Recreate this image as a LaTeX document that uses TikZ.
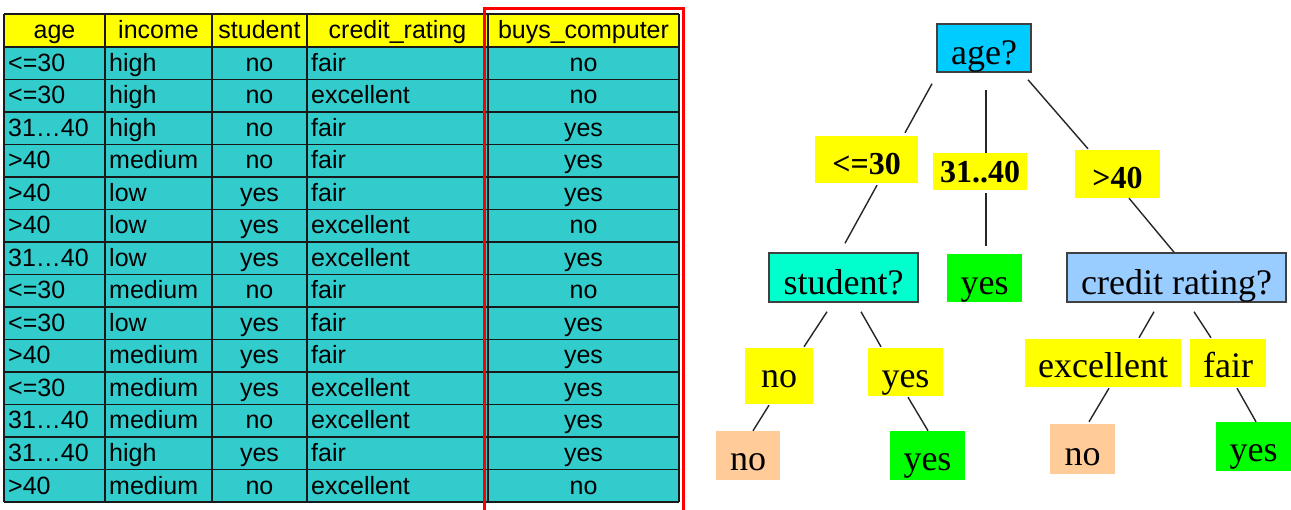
\documentclass[tikz,border=0pt]{standalone}
\usepackage{fontspec}
\setmainfont{Liberation Sans}
\newfontfamily\tms{Liberation Serif}
\usetikzlibrary{calc}
\definecolor{tealcell}{HTML}{33CCCC}
\definecolor{hdryellow}{HTML}{FFFF00}
\definecolor{agecol}{HTML}{00CCFF}
\definecolor{studcol}{HTML}{00FFCC}
\definecolor{credcol}{HTML}{99CCFF}
\definecolor{leafgreen}{HTML}{00FF00}
\definecolor{leafpeach}{HTML}{FFCC99}
\definecolor{bordgray}{HTML}{404040}
\definecolor{redbox}{HTML}{FF0000}
\tikzset{
  tcell/.style={inner sep=0pt, font=\fontsize{25}{30}\selectfont},
  tnode/.style={inner sep=0pt, anchor=base, font=\tms\fontsize{36}{42}\selectfont},
  tlabel/.style={tnode, fill=hdryellow, font=\tms\bfseries\fontsize{32}{38}\selectfont},
  tvalue/.style={tnode, fill=hdryellow},
  tquest/.style={tnode, draw=bordgray, line width=1.5pt},
  leafyes/.style={tnode, fill=leafgreen},
  leafno/.style={tnode, fill=leafpeach},
  conn/.style={draw=black!85, line width=1.4pt},
  grid/.style={draw=black!90, line width=1.5pt}
}
\begin{document}
\begin{tikzpicture}[x=1pt,y=-1pt]
\useasboundingbox[fill=white] (0,0) rectangle (1291,510);
% ---------- table ----------
\fill[hdryellow] (4,14) rectangle (679,47);
\fill[tealcell] (4,47) rectangle (679,502.5);
\foreach \yy in {14,47,79.5,112,144.5,177,209.5,242,274.5,307,339.5,372,404.5,437,469.5,502}
  \draw[grid] (4,\yy) -- (679,\yy);
\foreach \xx in {4,105,212,307,488,679}
  \draw[grid] (\xx,14) -- (\xx,502);
\node[tcell, anchor=base] (h1) at (54.5,39) {age};
\node[tcell, anchor=base] (h2) at (158.5,39) {income};
\node[tcell, anchor=base] (h3) at (259.5,39) {student};
\node[tcell, anchor=base] (h4) at (397.5,39) {credit\_rating};
\node[tcell, anchor=base] (h5) at (583.5,39) {buys\_computer};
\foreach \a/\b/\c/\d/\e [count=\i] in {
  <=30/high/no/fair/no,
  <=30/high/no/excellent/no,
  31…40/high/no/fair/yes,
  >40/medium/no/fair/yes,
  >40/low/yes/fair/yes,
  >40/low/yes/excellent/no,
  31…40/low/yes/excellent/yes,
  <=30/medium/no/fair/no,
  <=30/low/yes/fair/yes,
  >40/medium/yes/fair/yes,
  <=30/medium/yes/excellent/yes,
  31…40/medium/no/excellent/yes,
  31…40/high/yes/fair/yes,
  >40/medium/no/excellent/no}{
  \node[tcell, anchor=base west] (ra\i) at (8,{39+32.5*\i}) {\a};
  \node[tcell, anchor=base west] (rb\i) at (109,{39+32.5*\i}) {\b};
  \node[tcell, anchor=base] (rc\i) at (259.5,{39+32.5*\i}) {\c};
  \node[tcell, anchor=base west] (rd\i) at (311,{39+32.5*\i}) {\d};
  \node[tcell, anchor=base] (re\i) at (583.5,{39+32.5*\i}) {\e};
}
\draw[redbox, line width=3pt] (484,512) -- (484,8.5) -- (683,8.5) -- (683,512);
% ---------- tree ----------
\node[tquest, fill=agecol, minimum width=94pt, text height=41pt, text depth=7pt] (age) at (984,65) {age?};
\node[tlabel, minimum width=103pt, text height=39pt, text depth=8pt] (le30) at (866.5,175) {<=30};
\node[tlabel, minimum width=94pt, text height=30pt, text depth=7pt] (m3140) at (980,183) {31..40};
\node[tlabel, minimum width=85pt, text height=39pt, text depth=9pt] (gt40) at (1117.5,189) {>40};
\node[tquest, fill=studcol, minimum width=149pt, text height=42pt, text depth=7pt] (student) at (843.5,295) {student?};
\node[leafyes, minimum width=75pt, text height=41pt, text depth=7pt] (yes1) at (984.5,295) {yes};
\node[tquest, fill=credcol, minimum width=219pt, text height=42pt, text depth=7pt] (credit) at (1176.5,295) {credit rating?};
\node[tvalue, minimum width=68pt, text height=40pt, text depth=16pt] (sno) at (779,388) {no};
\node[tvalue, minimum width=75pt, text height=40pt, text depth=8pt] (syes) at (905.5,388) {yes};
\node[tvalue, minimum width=156pt, text height=39pt, text depth=9pt] (cexc) at (1103,378) {excellent};
\node[tvalue, minimum width=76pt, text height=39pt, text depth=9pt] (cfair) at (1228,378) {fair};
\node[leafno, minimum width=64pt, text height=40pt, text depth=9pt] (lno1) at (748,471) {no};
\node[leafyes, minimum width=75pt, text height=40pt, text depth=9pt] (lyes1) at (927.5,471) {yes};
\node[leafno, minimum width=65pt, text height=42pt, text depth=8pt] (lno2) at (1082.5,466) {no};
\node[leafyes, minimum width=75pt, text height=40pt, text depth=9pt] (lyes2) at (1253.5,462) {yes};
% connectors
\draw[conn] ($(age.south)+(-52,11)$) -- ($(le30.north)+(38.5,-3)$);
\draw[conn] ($(age.south)+(2,17)$) -- ($(m3140.north)+(6,0)$);
\draw[conn] ($(age.south)+(44,7)$) -- ($(gt40.north)+(-29.5,-1)$);
\draw[conn] ($(le30.south)+(10.5,2)$) -- ($(student.north)+(1.5,-9)$);
\draw[conn] ($(m3140.south)+(6,3)$) -- ($(yes1.north)+(1.5,-8)$);
\draw[conn] ($(gt40.south)+(11.5,0)$) -- ($(credit.north)+(-2.5,0)$);
\draw[conn] ($(student.south)+(-16.5,9)$) -- ($(sno.north)+(25,-1)$);
\draw[conn] ($(student.south)+(17.5,9)$) -- ($(syes.north)+(-24.5,-1)$);
\draw[conn] ($(sno.south)+(-10,1)$) -- ($(lno1.north)+(5,0)$);
\draw[conn] ($(syes.south)+(2.5,1)$) -- ($(lyes1.north)+(0.5,0)$);
\draw[conn] ($(credit.south)+(-22.5,9)$) -- ($(cexc.north)+(36,-1)$);
\draw[conn] ($(credit.south)+(17.5,9)$) -- ($(cfair.north)+(-17,-1)$);
\draw[conn] ($(cexc.south)+(6,1)$) -- ($(lno2.north)+(6.5,-2)$);
\draw[conn] ($(cfair.south)+(9,1)$) -- ($(lyes2.north)+(2.5,0)$);
\end{tikzpicture}
\end{document}
